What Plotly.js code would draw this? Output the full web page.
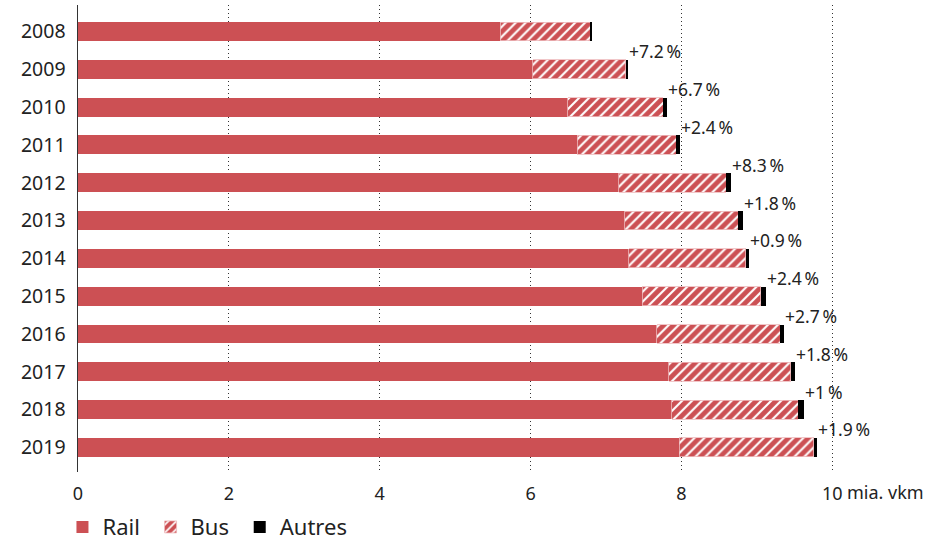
<!DOCTYPE html>
<html>
<head>
<meta charset="utf-8">
<script src="https://cdn.plot.ly/plotly-3.0.1.min.js"></script>
<style>
html,body{margin:0;padding:0;background:#fff;}
#chart{width:952px;height:543px;}
</style>
</head>
<body>
<div id="chart"></div>
<script>
const years = ["2008","2009","2010","2011","2012","2013","2014","2015","2016","2017","2018","2019"];
const rail = [5.60, 6.03, 6.49, 6.62, 7.17, 7.25, 7.30, 7.48, 7.67, 7.83, 7.87, 7.97];
const bus = [1.19, 1.23, 1.27, 1.31, 1.42, 1.50, 1.55, 1.57, 1.64, 1.62, 1.68, 1.78];
const autres = [0.02, 0.03, 0.05, 0.05, 0.06, 0.06, 0.05, 0.07, 0.05, 0.06, 0.08, 0.05];
const growthLabels = ["", "+7.2\u202F%", "+6.7\u202F%", "+2.4\u202F%", "+8.3\u202F%", "+1.8\u202F%", "+0.9\u202F%", "+2.4\u202F%", "+2.7\u202F%", "+1.8\u202F%", "+1\u202F%", "+1.9\u202F%"];
const seriesNames = ["Rail", "Bus", "Autres"];
const xTickVals = [0, 2, 4, 6, 8, 10];
const xTickText = ["0", "2", "4", "6", "8", "10"];
const unitLabel = "mia. vkm";

const RED = "#cc5054";
const FONT = "Noto Sans, Open Sans, sans-serif";
const PAD = "\u00A0";

const traces = [
  {type:"bar", orientation:"h", name:seriesNames[0] + PAD, y:years, x:rail,
   marker:{color:RED, line:{width:0}}, hoverinfo:"x+name"},
  {type:"bar", orientation:"h", name:seriesNames[1] + PAD, y:years, x:bus,
   marker:{color:RED, line:{color:"#eeb9bb", width:0.8},
           pattern:{shape:"/", fgcolor:"#ffffff", bgcolor:RED, size:7, solidity:0.3}},
   hoverinfo:"x+name"},
  {type:"bar", orientation:"h", name:seriesNames[2], y:years, x:autres,
   marker:{color:"#000000", line:{width:0}}, hoverinfo:"x+name"}
];

const totals = years.map((y,i)=>rail[i]+bus[i]+autres[i]);
const annotations = [];
for (let i=1;i<years.length;i++){
  annotations.push({x:totals[i], y:i, xref:"x", yref:"y", text:growthLabels[i],
    showarrow:false, xanchor:"left", yanchor:"middle", yshift:18, xshift:-1,
    font:{family:FONT, size:17.5, color:"#222"}});
}
annotations.push({x:10, y:0, xref:"x", yref:"paper", text:unitLabel, showarrow:false,
  xanchor:"left", yanchor:"middle", xshift:13, yshift:-20, font:{family:FONT, size:18, color:"#222"}});

const layout = {
  width:952, height:543,
  margin:{l:78, r:97, t:5, b:71, autoexpand:false},
  paper_bgcolor:"#fff", plot_bgcolor:"#fff",
  barmode:"stack", bargap:0.5,
  font:{family:FONT, color:"#222"},
  showlegend:true,
  legend:{orientation:"h", x:-0.02, xanchor:"left", y:-0.118, yanchor:"middle",
          font:{family:FONT, size:22, color:"#222"}, traceorder:"normal", itemclick:false},
  xaxis:{range:[0,10.3], tickvals:xTickVals, ticktext:xTickText, showgrid:true,
         gridcolor:"#333", griddash:"1px,3px", gridwidth:1, zeroline:false, showline:false,
         ticks:"", tickfont:{family:FONT, size:18, color:"#222"}, ticklabelstandoff:9, fixedrange:true},
  yaxis:{type:"category", range:[11.65,-0.7], showgrid:false, zeroline:false,
         showline:true, linecolor:"#333", linewidth:1.5, ticks:"",
         tickfont:{family:FONT, size:19.5, color:"#222"}, ticklabelstandoff:7, fixedrange:true},
  annotations:annotations
};

Plotly.newPlot("chart", traces, layout, {displayModeBar:false, staticPlot:true});
</script>
</body>
</html>
